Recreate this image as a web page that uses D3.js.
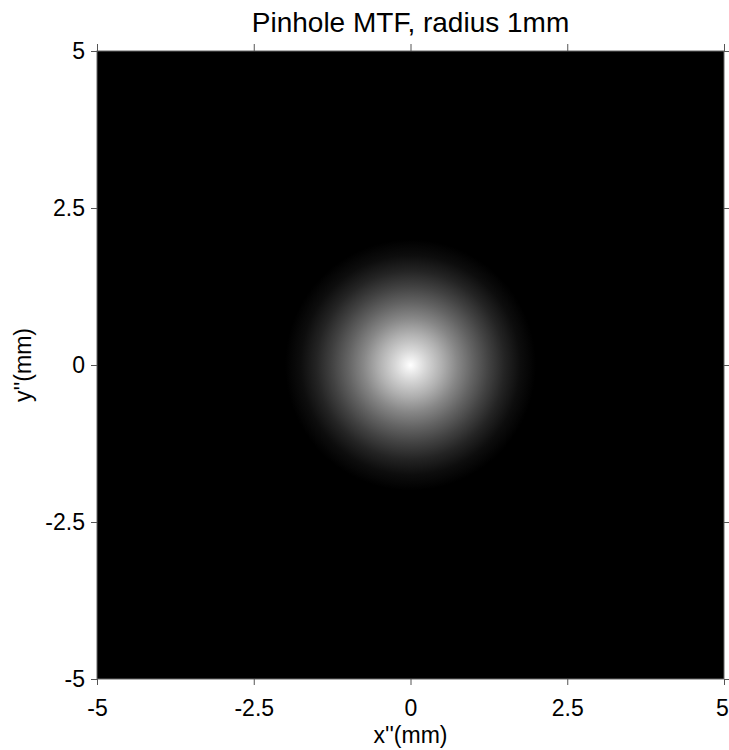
<!DOCTYPE html>
<html>
<head>
<meta charset="utf-8">
<script src="https://cdn.jsdelivr.net/npm/d3@7"></script>
<style>
  body { margin: 0; background: #fff; }
  text { font-family: "Liberation Sans", Arial, sans-serif; fill: #000; }
</style>
</head>
<body>
<div id="chart"></div>
<script>
// radial profile of the MTF (radius in mm, grey level 0..1)
const profileRadius = [0, 0.25, 0.5, 0.75, 1.0, 1.25, 1.5, 1.75, 2.0];
const profileValue  = [1, 0.84, 0.69, 0.53, 0.39, 0.26, 0.14, 0.05, 0];
const centre = [0, 0];

const tickValues = [-5, -2.5, 0, 2.5, 5];
const tickLabels = ["-5", "-2.5", "0", "2.5", "5"];
const domain = [-5, 5];

const titleText = "Pinhole MTF, radius 1mm";
const xLabel = "x''(mm)";
const yLabel = "y''(mm)";

const width = 729, height = 750;
const margin = {top: 51, right: 5, bottom: 71, left: 97};

const svg = d3.select("#chart").append("svg")
    .attr("width", width)
    .attr("height", height);

const x = d3.scaleLinear().domain(domain).range([margin.left, width - margin.right]);
const y = d3.scaleLinear().domain(domain).range([height - margin.bottom, margin.top]);
const grey = d3.scaleLinear().domain([0, 1]).range(["#000", "#fff"]);

//gradient built from the profile
const rMax = d3.max(profileRadius);
const grad = svg.append("defs").append("radialGradient")
    .attr("id", "mtf")
    .attr("gradientUnits", "userSpaceOnUse")
    .attr("cx", x(centre[0]))
    .attr("cy", y(centre[1]))
    .attr("r", x(rMax) - x(centre[0]));

grad.selectAll("stop")
    .data(profileRadius)
    .join("stop")
    .attr("offset", d => d / rMax)
    .attr("stop-color", (d, i) => grey(profileValue[i]));

svg.append("rect")
    .attr("x", x(-5)).attr("y", y(5))
    .attr("width", x(5) - x(-5)).attr("height", y(-5) - y(5))
    .attr("fill", "url(#mtf)");

//frame
svg.append("rect")
    .attr("x", x(-5)).attr("y", y(5))
    .attr("width", x(5) - x(-5)).attr("height", y(-5) - y(5))
    .attr("fill", "none")
    .attr("stroke", "#666")
    .attr("stroke-width", 1);

const fmt = v => tickLabels[tickValues.indexOf(v)];
const styleAxis = g => {
    g.select(".domain").remove();
    g.selectAll(".tick line").attr("stroke", "#555");
    g.selectAll(".tick text").style("font-size", "23px").attr("fill", "#000");
};

const xAxisG = svg.append("g")
    .attr("transform", `translate(0,${y(-5)})`)
    .call(d3.axisBottom(x).tickValues(tickValues).tickFormat(fmt).tickSize(6).tickPadding(15))
    .call(styleAxis);

//last label sits right on the window edge, nudge it in a bit
xAxisG.selectAll(".tick text")
    .filter(d => d === d3.max(tickValues))
    .attr("dx", -2);

svg.append("g")
    .attr("transform", `translate(0,${y(5)})`)
    .call(d3.axisTop(x).tickValues(tickValues).tickFormat("").tickSize(7))
    .call(styleAxis);

svg.append("g")
    .attr("transform", `translate(${x(-5)},0)`)
    .call(d3.axisLeft(y).tickValues(tickValues).tickFormat(fmt).tickSize(6).tickPadding(6))
    .call(styleAxis);

svg.append("g")
    .attr("transform", `translate(${x(5)},0)`)
    .call(d3.axisRight(y).tickValues(tickValues).tickFormat("").tickSize(6))
    .call(styleAxis);

svg.append("text")
    .attr("x", x(0)).attr("y", 32)
    .attr("text-anchor", "middle")
    .style("font-size", "28px")
    .text(titleText);

svg.append("text")
    .attr("x", x(0)).attr("y", 743)
    .attr("text-anchor", "middle")
    .style("font-size", "23px")
    .text(xLabel);

svg.append("text")
    .attr("transform", `translate(31,${y(0)}) rotate(-90)`)
    .attr("text-anchor", "middle")
    .style("font-size", "23px")
    .text(yLabel);
</script>
</body>
</html>
